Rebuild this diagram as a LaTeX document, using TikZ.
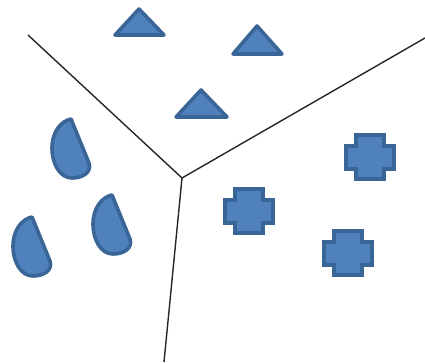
\documentclass[tikz,border=0pt]{standalone}
\usepackage{tikz}
\definecolor{shapefill}{HTML}{4F81BD}
\definecolor{shapeline}{HTML}{3A6597}
\tikzset{
  shp/.style={fill=shapefill, draw=shapeline, line width=3.6pt, line join=round},
  divider/.style={draw=black!85, line width=1.4pt},
  pics/drop/.style={code={
    \path[shp] (0,3) -- (18,47) .. controls (21,56) and (12,62) .. (1,62)
      .. controls (-11,62) and (-19,48) .. (-19,32)
      .. controls (-19,16) and (-10,5) .. (0,3) -- cycle;
  }},
  pics/plus/.style={code={
    \path[shp,line join=miter] (10,0) -- (38,0) -- (38,11) -- (48,11) -- (48,34) -- (38,34) -- (38,44)
      -- (10,44) -- (10,34) -- (0,34) -- (0,11) -- (10,11) -- cycle;
  }}
}
\begin{document}
\begin{tikzpicture}[x=1pt,y=-1pt]
\useasboundingbox (0,0) rectangle (425,363);
% dividers
\coordinate (c) at (182,178);
\coordinate (tl) at (28,35);
\coordinate (tr) at (425,38);
\coordinate (bt) at (164,362);
\draw[divider] (tl) -- (c) -- (tr);
\draw[divider] (c) -- (bt);
% triangles
\path[shp] (139,9) -- (164,35) -- (115,35) -- cycle;
\path[shp] (257,26) -- (282,54) -- (233,54) -- cycle;
\path[shp] (201,90) -- (227,117) -- (176,117) -- cycle;
% crosses
\pic at (346,135) {plus};
\pic at (225,189) {plus};
\pic at (324,231) {plus};
% drops
\pic at (71,116) {drop};
\pic at (32,214) {drop};
\pic at (112,192) {drop};
\end{tikzpicture}
\end{document}
